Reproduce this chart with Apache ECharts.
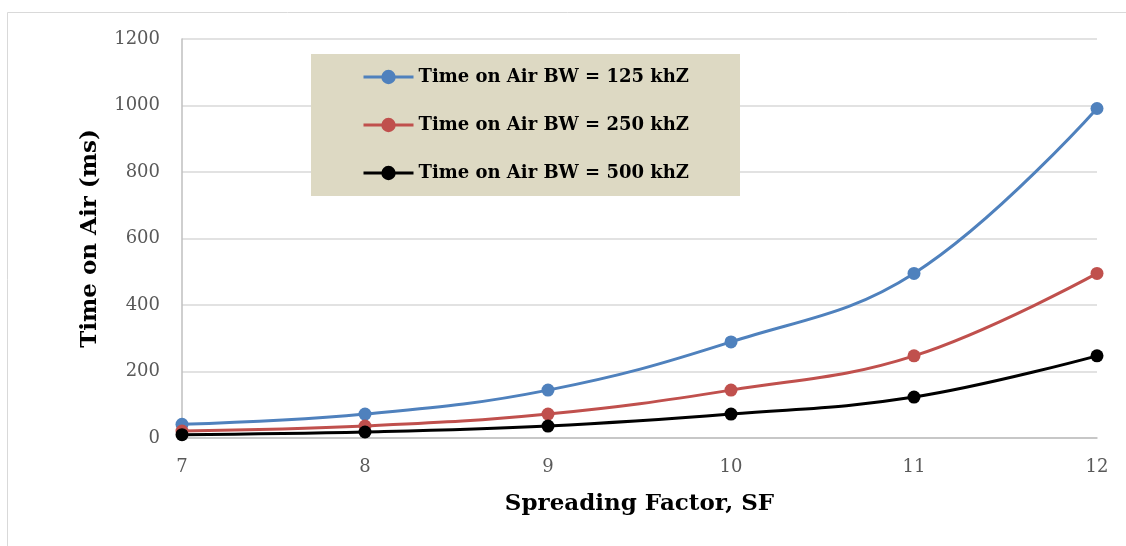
<!DOCTYPE html>
<html>
	<head>
		<meta charset="utf-8">
		<title>Time on Air</title>
		<script src="https://cdn.jsdelivr.net/npm/echarts@6/dist/echarts.min.js"></script>
		<style>
			html, body { margin: 0; padding: 0; background: #fff; }
			#main { width: 1126px; height: 546px; }
		</style>
	</head>
	<body>
		<div id="main"></div>
	</body>
	<script>
		// spreading factors on the x axis
		var sf = [7, 8, 9, 10, 11, 12];
		var bw125 = [41, 72, 144, 289, 495, 991];
		var bw250 = [21, 36, 72, 144, 247, 495];
		var bw500 = [10, 18, 36, 72, 123, 247];
		var names = ["Time on Air BW = 125 khZ", "Time on Air BW = 250 khZ", "Time on Air BW = 500 khZ"];
		var colors = ["#4f81bd", "#c0504d", "#000000"];

		function pairs(vals) {
			let out = [];
			for (let i = 0; i < sf.length; i++) {
				out.push([sf[i], vals[i]]);
			}
			return out;
		}

		function makeSeries(name, vals, color) {
			return {
				name: name,
				type: "line",
				data: pairs(vals),
				smooth: 0.4,
				symbol: "circle",
				symbolSize: 13,
				lineStyle: { color: color, width: 3 },
				itemStyle: { color: color },
				emphasis: { disabled: true }
			};
		}

		let serif = "'DejaVu Serif', serif";
		let option = {
			animation: false,
			backgroundColor: "#fff",
			color: colors,
			graphic: [{
				type: "rect",
				shape: { x: 7.5, y: 12.5, width: 1130, height: 545 },
				style: { fill: "none", stroke: "#d9d9d9", lineWidth: 1 },
				silent: true
			}],
			grid: { left: 182, right: 29, top: 39, bottom: 108 },
			legend: {
				orient: "vertical",
				left: 311,
				top: 54,
				padding: [13, 51, 13, 51],
				itemGap: 28,
				itemWidth: 50,
				itemHeight: 18,
				backgroundColor: "#ddd9c3",
				lineStyle: { width: 3 },
				textStyle: { fontFamily: serif, fontWeight: "bold", fontSize: 18, lineHeight: 20, color: "#000" },
				data: names
			},
			xAxis: {
				type: "value",
				min: 7,
				max: 12,
				interval: 1,
				name: "Spreading Factor, SF",
				nameLocation: "middle",
				nameGap: 55,
				nameTextStyle: { fontFamily: serif, fontWeight: "bold", fontSize: 23, color: "#000" },
				axisLine: { lineStyle: { color: "#bfbfbf", width: 1.5 } },
				axisTick: { show: false },
				axisLabel: { fontFamily: serif, fontSize: 18, color: "#595959", margin: 20 },
				splitLine: { show: false }
			},
			yAxis: {
				type: "value",
				min: 0,
				max: 1200,
				interval: 200,
				name: "Time on Air (ms)",
				nameLocation: "middle",
				nameGap: 80,
				nameTextStyle: { fontFamily: serif, fontWeight: "bold", fontSize: 23, color: "#000" },
				axisLine: { show: true, lineStyle: { color: "#bfbfbf", width: 1.5 } },
				axisTick: { show: false },
				axisLabel: {
					fontFamily: serif, fontSize: 18, color: "#595959", margin: 22,
					formatter: function (v) { return String(v); }
				},
				splitLine: { lineStyle: { color: "#d9d9d9", width: 1.5 } }
			},
			series: [
				makeSeries(names[0], bw125, colors[0]),
				makeSeries(names[1], bw250, colors[1]),
				makeSeries(names[2], bw500, colors[2])
			]
		};

		let echart = echarts.init(document.getElementById("main"));
		echart.setOption(option);
	</script>
</html>
